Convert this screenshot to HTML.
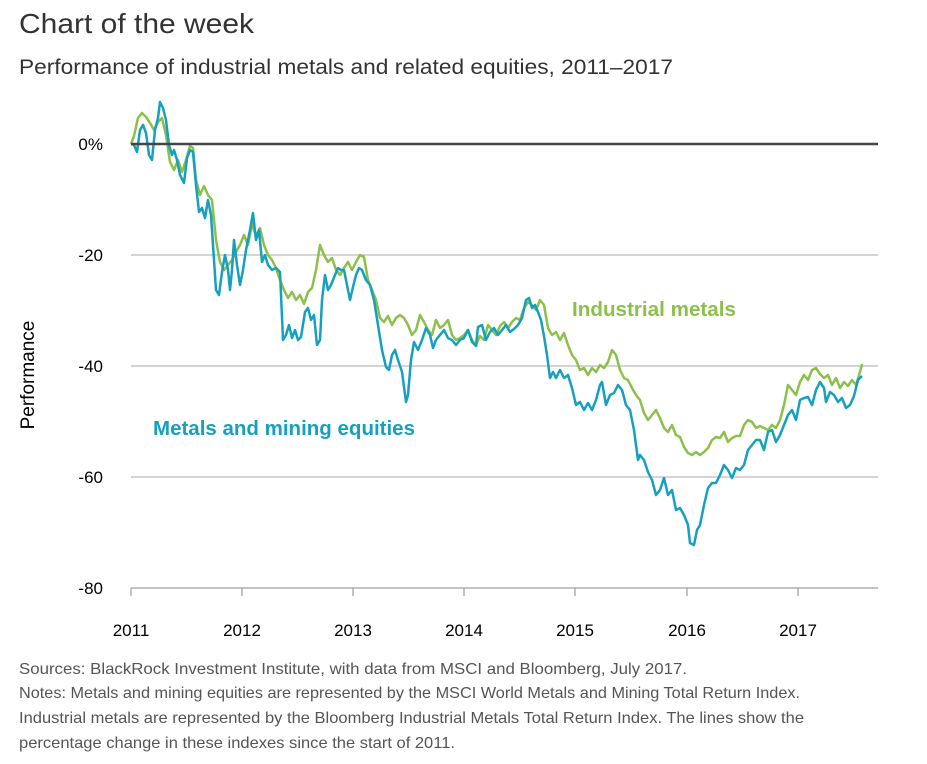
<!DOCTYPE html>
<html><head><meta charset="utf-8"><style>
body{margin:0;background:#fff;font-family:"Liberation Sans",Arial,sans-serif;}
</style></head><body>
<svg width="927" height="764" viewBox="0 0 927 764" xmlns="http://www.w3.org/2000/svg" style="display:block">
<text x="19" y="33" font-size="28" fill="#333" textLength="235" lengthAdjust="spacingAndGlyphs">Chart of the week</text>
<text x="19" y="74" font-size="21" fill="#333" textLength="654" lengthAdjust="spacingAndGlyphs">Performance of industrial metals and related equities, 2011–2017</text>
<g stroke="#aaa" stroke-width="1">
<line x1="131" y1="255" x2="878" y2="255"/><line x1="131" y1="366" x2="878" y2="366"/><line x1="131" y1="477" x2="878" y2="477"/>
</g>
<line x1="131" y1="588" x2="878" y2="588" stroke="#888" stroke-width="1"/>
<g stroke="#888" stroke-width="1">
<line x1="131" y1="588" x2="131" y2="596"/><line x1="242" y1="588" x2="242" y2="596"/><line x1="353" y1="588" x2="353" y2="596"/><line x1="464" y1="588" x2="464" y2="596"/><line x1="575" y1="588" x2="575" y2="596"/><line x1="687" y1="588" x2="687" y2="596"/><line x1="798" y1="588" x2="798" y2="596"/>
</g>
<g font-size="17" fill="#000" text-anchor="end">
<text x="103" y="150">0%</text><text x="103" y="261">-20</text><text x="103" y="372">-40</text><text x="103" y="483">-60</text><text x="103" y="594">-80</text>
</g>
<g font-size="17" fill="#000" text-anchor="middle">
<text x="131" y="636">2011</text><text x="242" y="636">2012</text><text x="353" y="636">2013</text><text x="464" y="636">2014</text><text x="575" y="636">2015</text><text x="687" y="636">2016</text><text x="798" y="636">2017</text>
</g>
<text transform="translate(34,375) rotate(-90)" font-size="19" fill="#000" text-anchor="middle">Performance</text>
<polyline fill="none" stroke="#8cc04a" stroke-width="2.5" stroke-linejoin="round" points="131,144 134,136 138,118 142,113 146,117 150,123 154,130 158,122 162,118 166,135 170,162 174,170 178,160 182,172 186,160 190,146 193,148 196,180 200,195 204,186 208,195 212,200 216,240 220,262 224,270 228,265 232,260 236,252 240,245 244,235 248,245 252,224 256,236 260,228 264,245 268,255 272,260 276,268 280,280 284,290 288,298 292,292 296,300 300,295 304,304 308,292 312,288 316,270 320,245 324,255 328,262 332,258 336,270 340,275 344,268 348,262 352,270 356,262 360,255 364,257 368,280 372,290 376,300 380,318 384,322 388,316 392,325 396,318 400,315 404,318 408,325 412,335 416,330 420,315 424,322 428,330 432,335 436,320 440,328 444,325 448,320 452,335 456,340 460,338 464,335 468,330 472,340 476,345 480,336 484,340 488,325 492,330 496,335 500,326 504,322 508,328 512,322 516,318 520,320 524,308 528,302 532,305 536,310 540,300 544,305 548,328 552,335 556,332 560,340 564,333 568,345 572,355 576,360 580,370 584,368 588,375 592,368 596,372 600,365 604,368 608,362 612,350 616,355 620,370 624,378 628,380 632,388 636,395 640,400 644,413 648,420 652,415 656,410 660,418 664,428 668,432 672,425 676,435 680,437 684,447 688,453 692,455 696,452 700,455 704,452 708,448 712,440 716,437 720,438 724,432 728,442 732,438 736,436 740,436 744,425 748,420 752,422 756,428 760,426 764,428 768,430 772,425 776,428 780,420 784,405 788,385 792,390 796,395 800,382 804,375 808,380 812,370 816,368 820,374 824,378 828,375 832,385 836,378 840,388 844,382 848,386 852,380 856,385 860,372 862,364"/>
<polyline fill="none" stroke="#16a0c0" stroke-width="2.5" stroke-linejoin="round" points="131,144 134,145 137,152 140,130 143,125 146,133 149,155 152,160 155,130 158,118 160,102 163,108 166,120 169,145 172,155 174,150 177,160 180,175 184,183 187,158 190,150 193,152 196,185 199,212 202,208 205,218 208,200 211,215 213,245 216,290 219,295 222,272 225,255 228,270 230,290 232,270 234,240 237,265 240,285 243,270 246,250 250,230 253,213 256,240 259,230 262,262 265,255 268,265 272,270 276,268 280,272 283,340 286,335 289,325 292,338 295,330 298,340 301,337 305,312 308,308 311,320 314,315 317,345 320,340 322,300 325,275 328,290 331,285 335,275 338,268 341,270 344,270 348,290 350,300 353,287 356,275 359,268 362,270 366,280 370,285 374,300 378,325 382,350 386,367 389,370 392,355 395,350 398,360 402,372 406,402 408,395 411,360 414,342 418,350 422,340 426,328 430,335 433,348 436,340 440,335 444,330 448,338 452,340 456,345 460,340 464,338 468,330 472,342 476,346 478,327 482,325 486,340 490,332 494,328 498,335 502,330 506,325 510,332 514,329 518,325 522,318 526,300 529,298 532,308 535,305 538,312 541,320 544,336 547,355 550,378 553,372 556,378 560,370 564,378 568,375 572,388 576,405 580,402 584,410 588,403 592,410 596,400 600,385 602,382 606,405 610,395 614,393 618,385 622,390 626,405 630,410 634,430 638,460 640,455 644,460 648,472 652,480 656,495 660,490 664,478 668,495 672,490 676,510 680,508 684,515 688,525 690,543 694,545 697,530 700,525 704,505 708,488 712,483 716,483 720,475 724,465 728,470 732,478 736,468 740,470 744,465 748,450 752,445 756,440 760,440 764,450 768,432 772,430 776,442 780,435 784,425 788,415 792,410 796,420 800,400 804,398 808,397 812,405 816,390 820,382 824,388 826,402 830,392 834,395 838,402 842,398 846,408 850,405 854,396 858,380 862,376"/>
<line x1="131" y1="144" x2="878" y2="144" stroke="#444" stroke-width="2.5"/>
<text x="572" y="316" font-size="20" font-weight="bold" fill="#8cc04a" textLength="164" lengthAdjust="spacingAndGlyphs">Industrial metals</text>
<text x="153" y="435" font-size="20" font-weight="bold" fill="#16a0c0" textLength="262" lengthAdjust="spacingAndGlyphs">Metals and mining equities</text>
<g font-size="16" fill="#555">
<text x="19" y="674" textLength="668" lengthAdjust="spacingAndGlyphs">Sources: BlackRock Investment Institute, with data from MSCI and Bloomberg, July 2017.</text>
<text x="19" y="698" textLength="781" lengthAdjust="spacingAndGlyphs">Notes: Metals and mining equities are represented by the MSCI World Metals and Mining Total Return Index.</text>
<text x="19" y="723" textLength="785" lengthAdjust="spacingAndGlyphs">Industrial metals are represented by the Bloomberg Industrial Metals Total Return Index. The lines show the</text>
<text x="19" y="748" textLength="436" lengthAdjust="spacingAndGlyphs">percentage change in these indexes since the start of 2011.</text>
</g>
</svg>
</body></html>
